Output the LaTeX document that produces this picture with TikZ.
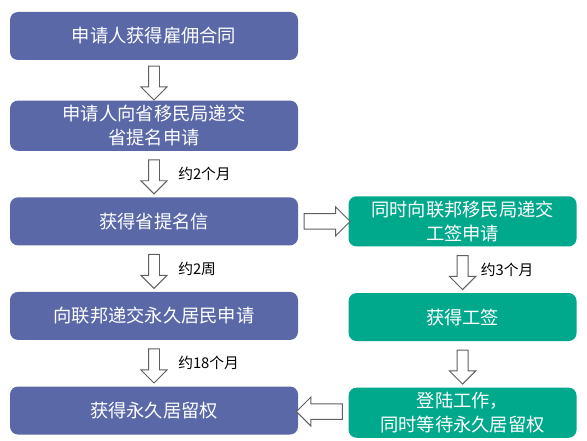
\documentclass[tikz,border=0pt]{standalone}
\usepackage{fontspec}
\setmainfont{Noto Sans CJK SC}
\usetikzlibrary{positioning, calc, shapes.arrows}
\definecolor{stepblue}{RGB}{90,104,168}
\definecolor{stepgreen}{RGB}{0,168,140}
\definecolor{arrowgray}{RGB}{95,95,95}

\begin{document}
\begin{tikzpicture}[
    node distance=1.15cm,
    box/.style={rectangle, rounded corners=0.2cm, minimum width=7.2cm, minimum height=1.2cm, align=center, text=white, font=\fontsize{13}{17}\selectfont, fill=#1},
    gbox/.style={box=stepgreen, minimum width=5.7cm},
    downarr/.style={single arrow, draw=arrowgray, fill=white, line width=0.7pt, shape border rotate=270, minimum height=0.85cm, single arrow head extend=0.19cm, inner xsep=0.125cm, inner ysep=0pt},
    sidearr/.style={single arrow, draw=arrowgray, fill=white, line width=0.7pt, minimum height=1.15cm, single arrow head extend=0.17cm, inner xsep=0pt, inner ysep=0.18cm, shape border rotate=#1},
    note/.style={font=\fontsize{10.5}{12}\selectfont, inner sep=0pt}
]
\useasboundingbox (0,0) rectangle (14.675,-11);
% left column
\node[box=stepblue] (a) at (3.85,-0.9) {申请人获得雇佣合同};
\node[box=stepblue, below=1cm of a] (b) {申请人向省移民局递交\\省提名申请};
\node[box=stepblue, below=of b] (c) {获得省提名信};
\node[box=stepblue, below=of c] (d) {向联邦递交永久居民申请};
\node[box=stepblue, below=of d] (e) {获得永久居留权};
% right column
\node[gbox, right=1.25cm of c] (ga) {同时向联邦移民局递交\\工签申请};
\node[gbox, below=of ga] (gb) {获得工签};
\node[gbox, below=of gb] (gc) {登陆工作，\\同时等待永久居留权};
% block arrows
\node[downarr] (d1) at ($(a.south)!0.5!(b.north)$) {};
\node[downarr] (d2) at ($(b.south)!0.5!(c.north)$) {};
\node[downarr] (d3) at ($(c.south)!0.5!(d.north)$) {};
\node[downarr] (d4) at ($(d.south)!0.5!(e.north)$) {};
\node[downarr] (g1) at ($(ga.south)!0.5!(gb.north)$) {};
\node[downarr] (g2) at ($(gb.south)!0.5!(gc.north)$) {};
\node[sidearr=0] (r1) at ($(c.east)!0.5!(ga.west)$) {};
\node[sidearr=180] (r2) at ($(e.east)!0.5!(gc.west)$) {};
% durations
\node[note, right=0.45cm of d2] (t2) {约2个月};
\node[note, right=0.45cm of d3] (t3) {约2周};
\node[note, right=0.45cm of d4] (t4) {约18个月};
\node[note, right=0.3cm of g1] (t5) {约3个月};
\end{tikzpicture}
\end{document}
